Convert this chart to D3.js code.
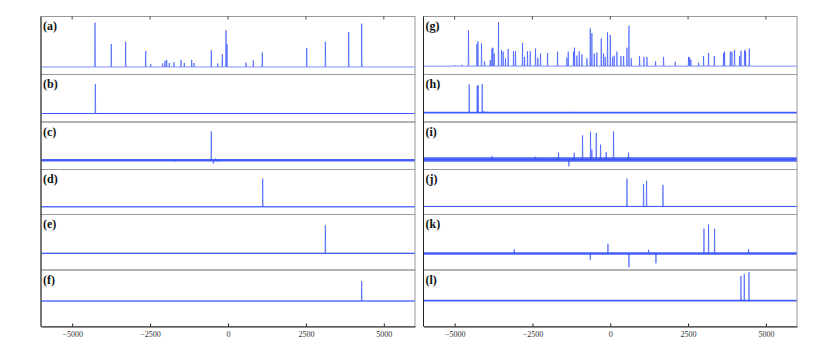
<!DOCTYPE html>
<html>
<head>
<meta charset="utf-8">
<script src="https://cdn.jsdelivr.net/npm/d3@7"></script>
<style>
  body { margin: 0; background: #fff; }
  text { font-family: "Liberation Serif", "DejaVu Serif", serif; }
</style>
</head>
<body>
<script>
"use strict";

// Tick labels shared by both columns.
const xTicks = [-5000, -2500, 0, 2500, 5000];
const xDomain = [-6000, 6000];

// Panel labels, left column then right column.
const labelsLeft = ["(a)", "(b)", "(c)", "(d)", "(e)", "(f)"];
const labelsRight = ["(g)", "(h)", "(i)", "(j)", "(k)", "(l)"];

// Peaks as [position, intensity] with the tallest peak of a panel near 100.
const peaksA = [[-4267, 100], [-3744, 52], [-3283, 57], [-2641, 36], [-2481, 7], [-2096, 8],
  [-2021, 14], [-1967, 16], [-1883, 9], [-1733, 11], [-1508, 16], [-1402, 9], [-1165, 16],
  [-1091, 9], [-535, 38], [-330, 8], [-182, 29], [-64, 83], [-32, 52], [578, 10], [812, 15],
  [1101, 33], [2525, 43], [3124, 57], [3872, 79], [4290, 98]];
const peaksB = [[-4256, 100]];
const peaksC = [[-1700, -4], [-535, 100], [-470, -12], [-400, 6], [-330, -5]];
const peaksD = [[1113, 100]];
const peaksE = [[3124, 100]];
const peaksF = [[4290, 100]];

const peaksG = [[-4981, 2], [-4766, 3], [-4554, 81], [-4284, 50], [-4252, 57], [-4136, 52],
  [-4040, 11], [-3856, 14], [-3802, 40], [-3770, 42], [-3727, 29], [-3590, 100], [-3493, 37],
  [-3440, 33], [-3365, 18], [-3278, 39], [-3108, 34], [-3043, 34], [-2818, 53], [-2754, 21],
  [-2658, 34], [-2571, 34], [-2401, 40], [-2326, 19], [-2240, 29], [-2015, 30], [-1694, 33],
  [-1394, 19], [-1350, 33], [-1179, 33], [-1147, 42], [-1072, 24], [-996, 34], [-910, 27],
  [-750, 18], [-643, 86], [-590, 75], [-515, 29], [-430, 31], [-289, 63], [-215, 29],
  [-161, 21], [-87, 77], [0, 71], [75, 21], [128, 24], [214, 33], [344, 23], [428, 23],
  [537, 42], [601, 92], [675, 18], [942, 23], [1083, 21], [1180, 21], [1456, 11], [1713, 21],
  [2089, 10], [2516, 21], [2548, 20], [2590, 15], [2838, 8], [2998, 23], [3159, 30],
  [3342, 23], [3641, 30], [3673, 33], [3857, 33], [3910, 33], [3995, 37], [4156, 23],
  [4199, 35], [4316, 37], [4348, 34], [4467, 40]];
const peaksH = [[-4531, 99], [-4274, 95], [-4242, 96], [-4114, 100], [-4050, 5], [-3950, 3],
  [-1200, 3]];
const peaksI = [[-3800, 12], [-2400, 10], [-1661, 25], [-1328, -24], [-1157, 24], [-890, 86],
  [-633, 99], [-590, 35], [-450, 94], [-312, 53], [-130, 27], [106, 100], [588, 25]];
const peaksJ = [[537, 100], [1070, 80], [1167, 91], [1693, 77]];
const peaksK = [[-3085, 15], [-643, -22], [-74, 34], [601, -48], [1231, 13], [1468, -34],
  [3011, 86], [3159, 100], [3352, 86], [4444, 15]];
const peaksL = [[4199, 86], [4306, 92], [4457, 100]];

// Baseline noise level (half width, same units as the peaks).
const noiseLeft = [0, 1.7, 4.5, 1.8, 2.5, 2.5];
const noiseRight = [0, 3, 8, 1.8, 4.5, 3];

// Y limits of every panel.
const yLimLeft = [[-17, 114], [-29, 133], [-32, 132], [-27, 132], [-59, 138], [-128, 156]];
const yLimRight = [[-19, 113], [-33, 134], [-35, 133], [-29, 132], [-57, 135], [-91, 107]];

// Layout
const width = 830, height = 344;
const columns = [
  {x0: 41, x1: 415, labels: labelsLeft, peaks: [peaksA, peaksB, peaksC, peaksD, peaksE, peaksF],
    noise: noiseLeft, ylim: yLimLeft},
  {x0: 423.5, x1: 797, labels: labelsRight, peaks: [peaksG, peaksH, peaksI, peaksJ, peaksK, peaksL],
    noise: noiseRight, ylim: yLimRight}
];
const rowEdges = [16.5, 74.5, 122, 169.5, 214.5, 270, 326.5];
const lineColor = "#3350ff";
const peakHalfWidth = 10;

const svg = d3.select("body").append("svg")
  .attr("width", width)
  .attr("height", height);

columns.forEach(col => {
  const x = d3.scaleLinear().domain(xDomain).range([col.x0, col.x1]);
  const g = svg.append("g");

  col.peaks.forEach((peaks, i) => {
    const top = rowEdges[i], bottom = rowEdges[i + 1];
    const y = d3.scaleLinear().domain(col.ylim[i]).range([bottom, top]);
    const clipId = "clip-" + col.labels[i].replace(/[()]/g, "");

    g.append("clipPath").attr("id", clipId)
      .append("rect")
      .attr("x", col.x0).attr("y", top)
      .attr("width", col.x1 - col.x0).attr("height", bottom - top);

    const panel = g.append("g").attr("clip-path", "url(#" + clipId + ")");

    // noise band around the baseline
    const n = col.noise[i];
    if (n > 0) {
      const band = d3.area()
        .x(d => x(d))
        .y0(y(-n))
        .y1(y(n));
      panel.append("path")
        .datum(xDomain)
        .attr("d", band)
        .attr("fill", "#2440f5")
        .attr("fill-opacity", 0.8);
    }

    // spectrum: baseline with narrow peaks
    const sorted = peaks.slice().sort((a, b) => a[0] - b[0]);
    const pts = [[xDomain[0], 0]];
    sorted.forEach(p => {
      pts.push([p[0] - peakHalfWidth, 0], [p[0], p[1]], [p[0] + peakHalfWidth, 0]);
    });
    pts.push([xDomain[1], 0]);

    const line = d3.line()
      .x(d => x(d[0]))
      .y(d => y(d[1]));
    panel.append("path")
      .datum(pts)
      .attr("d", line)
      .attr("fill", "none")
      .attr("stroke", lineColor)
      .attr("stroke-width", 0.65)
      .attr("stroke-linejoin", "miter");

    // separator / panel box
    g.append("rect")
      .attr("x", col.x0).attr("y", top)
      .attr("width", col.x1 - col.x0).attr("height", bottom - top)
      .attr("fill", "none")
      .attr("stroke", "#999")
      .attr("stroke-width", 1);

    g.append("text")
      .attr("x", col.x0 + 2)
      .attr("y", top + 13.5)
      .attr("font-size", 12)
      .attr("font-weight", "bold")
      .attr("fill", "#111")
      .text(col.labels[i]);
  });

  const yTop = rowEdges[0], yBot = rowEdges[rowEdges.length - 1];

  // left frame in black
  g.append("line")
    .attr("x1", col.x0).attr("x2", col.x0)
    .attr("y1", yTop).attr("y2", yBot)
    .attr("stroke", "#222");

  // bottom axis, ticks inward
  const axis = d3.axisBottom(x)
    .tickValues(xTicks)
    .tickFormat(d3.format("d"))
    .tickSizeInner(-3)
    .tickSizeOuter(0)
    .tickPadding(5);
  const ax = g.append("g")
    .attr("transform", "translate(0," + yBot + ")")
    .call(axis);
  ax.attr("font-family", null);
  ax.select(".domain").attr("stroke", "#222");
  ax.selectAll(".tick line").attr("stroke", "#222");
  ax.selectAll(".tick text")
    .attr("font-family", "Liberation Serif, serif")
    .attr("font-size", 8)
    .attr("fill", "#333");

  // top ticks, inward
  g.selectAll(".top-tick")
    .data(xTicks)
    .enter().append("line")
    .attr("x1", d => x(d)).attr("x2", d => x(d))
    .attr("y1", yTop).attr("y2", yTop + 3)
    .attr("stroke", "#444");
});
</script>
</body>
</html>
